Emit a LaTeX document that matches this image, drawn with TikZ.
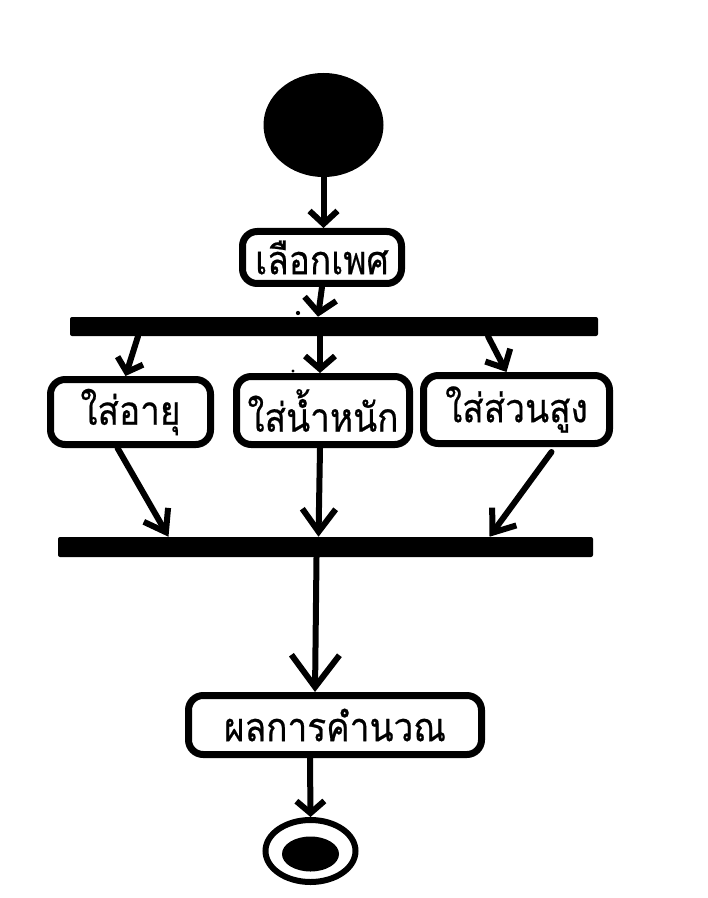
\documentclass[tikz,border=0pt]{standalone}
\usepackage{fontspec}
\newfontfamily\thaifont[Script=Thai,FakeBold=0.5,FakeStretch=0.88]{Loma}
\usetikzlibrary{arrows.meta,shapes.geometric,calc}
\tikzset{
  actbox/.style={draw, line width=5.25pt, rounded corners=11pt, inner sep=0pt,
    font=\thaifont\fontsize{30}{34}\selectfont},
  bar/.style={fill, inner sep=0pt, rounded corners=1.5pt},
  flow/.style={line width=4.5pt, line cap=round},
  barb/.style 2 args={-{Straight Barb[length=#1, width=#2]}},
}
\begin{document}
\begin{tikzpicture}[x=0.75pt, y=-0.75pt]
\useasboundingbox (0,0) rectangle (707,898);

% start and end states
\node (start) [ellipse, fill, inner sep=0pt, minimum width=90pt, minimum height=78pt] at (323.5,125) {};
\node (stop) [ellipse, draw, line width=4.5pt, inner sep=0pt, minimum width=67.5pt, minimum height=46.5pt] at (310.5,851) {};
\node (stopdot) [ellipse, fill, inner sep=0pt, minimum width=42.75pt, minimum height=26.25pt] at (310.5,854) {};

% actions
\node (sex) [actbox, minimum width=119.25pt, minimum height=39pt] at (322,257.5) {เลือกเพศ};
\node (age) [actbox, minimum width=120pt, minimum height=48.75pt] at (130.5,412) {ใส่อายุ};
\node (weight) [actbox, minimum width=129.75pt, minimum height=51pt] at (323,410.5) {ใส่น้ำหนัก};
\node (height) [actbox, minimum width=139.5pt, minimum height=51pt] at (516.5,409.5) {ใส่ส่วนสูง};
\node (result) [actbox, minimum width=219.75pt, minimum height=44.25pt] at (335,725) {ผลการคำนวณ};

% fork and join bars
\node (fork) [bar, minimum width=396pt, minimum height=14.25pt] at (334,326.5) {};
\node (join) [bar, minimum width=401.25pt, minimum height=15pt] at (325.5,547) {};

% stray pen dots
\fill (298,313) circle (1.6pt);
\fill (293,371) circle (1.3pt);

% connectors
\draw[flow, barb={9.75pt}{21pt}] (start.south) -- (start.south |- sex.north);
\draw[flow, barb={10.5pt}{24pt}] (sex.south) -- ($(fork.north)+(-16,0)$);
\draw[flow, barb={9pt}{20pt}] ($(fork.south)+(-196,0)$) -- ($(age.north)+(-5,0)$);
\draw[flow, barb={9.75pt}{22.5pt}] ($(fork.south)+(-14,0)$) -- ($(weight.north)+(-3,0)$);
\draw[flow, barb={11pt}{21pt}] ($(fork.south)+(154,0)$) -- ($(height.north)+(-10,0)$);
\draw[flow, barb={15pt}{21pt}] ($(age.south)+(-13,0)$) -- ($(join.north)+(-157,0)$);
\draw[flow, barb={17pt}{25pt}] ($(weight.south)+(-3,0)$) -- ($(join.north)+(-7,0)$);
\draw[flow, barb={15pt}{22.5pt}] ($(height.south)+(35,5)$) -- ($(join.north)+(164,0)$);
\draw[flow, barb={24pt}{36pt}] ($(join.south)+(-9,0)$) -- ($(result.north)+(-20,0)$);
\draw[flow, barb={9pt}{21pt}] ($(result.south)+(-25,0)$) -- ($(stop.north)+(0,0)$);
\end{tikzpicture}
\end{document}
